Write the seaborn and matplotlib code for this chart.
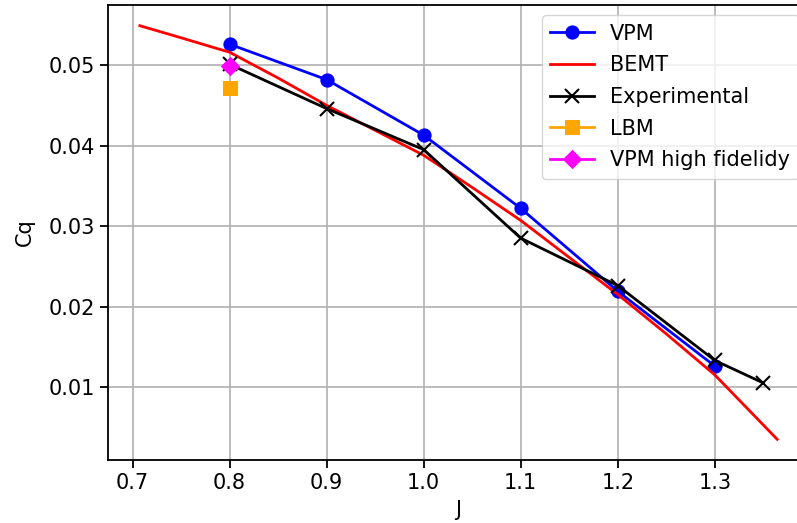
import matplotlib
matplotlib.use("Agg")
import matplotlib.pyplot as plt
import seaborn as sns
import pandas as pd

# Data
vpm_J = [0.8, 0.9, 1.0, 1.1, 1.2, 1.3]
vpm_Cq = [0.0526, 0.0482, 0.0413, 0.0322, 0.0219, 0.0126]

bemt_J = [0.7075, 0.75, 0.8, 0.85, 0.9, 0.95, 1.0, 1.05, 1.1, 1.15, 1.2, 1.25, 1.3, 1.3643]
bemt_Cq = [0.0549, 0.0534, 0.0516, 0.0484, 0.0450, 0.0419, 0.0388, 0.0348, 0.0307, 0.0261, 0.0215, 0.0166, 0.0115, 0.0035]

exp_J = [0.8, 0.9, 1.0, 1.1, 1.2, 1.3, 1.35]
exp_Cq = [0.0501, 0.0446, 0.0395, 0.0285, 0.0226, 0.0133, 0.0105]

lbm_J = [0.8]
lbm_Cq = [0.0471]

vpmhf_J = [0.8]
vpmhf_Cq = [0.0499]

fig = plt.figure(figsize=(7.97, 5.23), dpi=100)
ax = fig.add_axes([0.1355, 0.1205, 0.8796, 0.8699])

fs = 15
lw = 2.0

series = [
    ("VPM", vpm_J, vpm_Cq, "blue", "o", 9.5),
    ("BEMT", bemt_J, bemt_Cq, "red", None, 0),
    ("Experimental", exp_J, exp_Cq, "black", "x", 9.5),
    ("LBM", lbm_J, lbm_Cq, "orange", "s", 9.5),
    ("VPM high fidelidy", vpmhf_J, vpmhf_Cq, "magenta", "D", 9.5),
]

for name, xs, ys, col, mk, ms in series:
    df = pd.DataFrame({"J": xs, "Cq": ys})
    kw = dict(data=df, x="J", y="Cq", ax=ax, color=col, label=name,
              sort=False, estimator=None, linewidth=lw)
    if mk is not None:
        kw.update(marker=mk, markersize=ms, markeredgecolor=col)
        if mk == "x":
            kw.update(markeredgewidth=1.5)
    sns.lineplot(**kw)

ax.grid(True, color="#b0b0b0", linewidth=1.2)
ax.set_xlim(0.6747, 1.3971)
ax.set_ylim(0.00093, 0.05747)
ax.set_xticks([0.7, 0.8, 0.9, 1.0, 1.1, 1.2, 1.3])
ax.set_yticks([0.01, 0.02, 0.03, 0.04, 0.05])
ax.tick_params(labelsize=fs, length=6, width=1.3)
for s in ax.spines.values():
    s.set_linewidth(1.3)
ax.set_xlabel("J", fontsize=fs, labelpad=5)
ax.set_ylabel("Cq", fontsize=fs, labelpad=10)
ax.legend(loc="upper right", fontsize=fs, handlelength=2.1,
          labelspacing=0.56, borderaxespad=0.5)

fig.savefig("out.png", dpi=100)
